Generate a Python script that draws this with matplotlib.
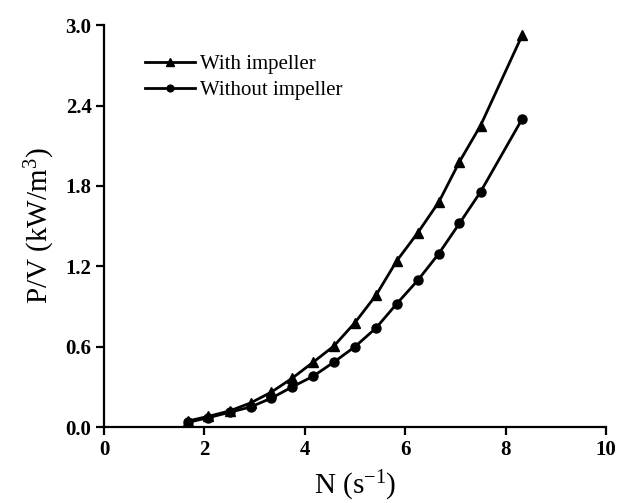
import numpy as np
import matplotlib
matplotlib.use('Agg')
import matplotlib.pyplot as plt

# Fonts: Times-like serif everywhere, including mathtext superscripts
plt.rcParams['font.family'] = ['Liberation Serif', 'DejaVu Serif']
plt.rcParams['mathtext.fontset'] = 'custom'
plt.rcParams['mathtext.rm'] = 'Liberation Serif'
plt.rcParams['mathtext.it'] = 'Liberation Serif:italic'
plt.rcParams['mathtext.bf'] = 'Liberation Serif:bold'

# Data
n_speed = [1.67, 2.08, 2.50, 2.92, 3.33, 3.75, 4.17, 4.58, 5.00, 5.42, 5.83, 6.25, 6.67, 7.08, 7.50, 8.33]
pv_with = [0.045, 0.08, 0.12, 0.18, 0.26, 0.365, 0.485, 0.605, 0.78, 0.985, 1.24, 1.45, 1.68, 1.98, 2.25, 2.925]
pv_without = [0.035, 0.07, 0.11, 0.15, 0.215, 0.30, 0.38, 0.485, 0.60, 0.74, 0.92, 1.095, 1.295, 1.52, 1.755, 2.30]
labels = ['With impeller', 'Without impeller']

x_ticks = [0, 2, 4, 6, 8, 10]
y_ticks = [0.0, 0.6, 1.2, 1.8, 2.4, 3.0]

fig = plt.figure(figsize=(6.17, 5.03), dpi=100)
ax = fig.add_axes([0.1686, 0.151, 0.8136, 0.799])

ax.plot(n_speed, pv_with, color='black', lw=2, marker='^', ms=7, label=labels[0])
ax.plot(n_speed, pv_without, color='black', lw=2, marker='o', ms=6.5, label=labels[1])

ax.set_xlim(0, 10)
ax.set_ylim(0, 3.0)
ax.set_xticks(x_ticks)
ax.set_yticks(y_ticks)
ax.set_yticklabels([f'{v:.1f}' for v in y_ticks])

for side in ['top', 'right']:
    ax.spines[side].set_visible(False)
for side in ['left', 'bottom']:
    ax.spines[side].set_linewidth(1.6)

ax.tick_params(direction='out', length=6, width=1.6, labelsize=15, pad=3)
for lab in ax.get_xticklabels() + ax.get_yticklabels():
    lab.set_fontweight('bold')

ax.set_xlabel('N (s$^{-1}$)', fontsize=21, labelpad=6.5)
ax.set_ylabel('P/V (kW/m$^{3}$)', fontsize=21, labelpad=6)

ax.legend(loc='upper left', bbox_to_anchor=(0.0817, 0.926), frameon=False,
          fontsize=15, handlelength=2.4, handletextpad=0.25, labelspacing=0.3,
          borderpad=0, borderaxespad=0, markerscale=0.75)

fig.savefig('out.png', dpi=100)
